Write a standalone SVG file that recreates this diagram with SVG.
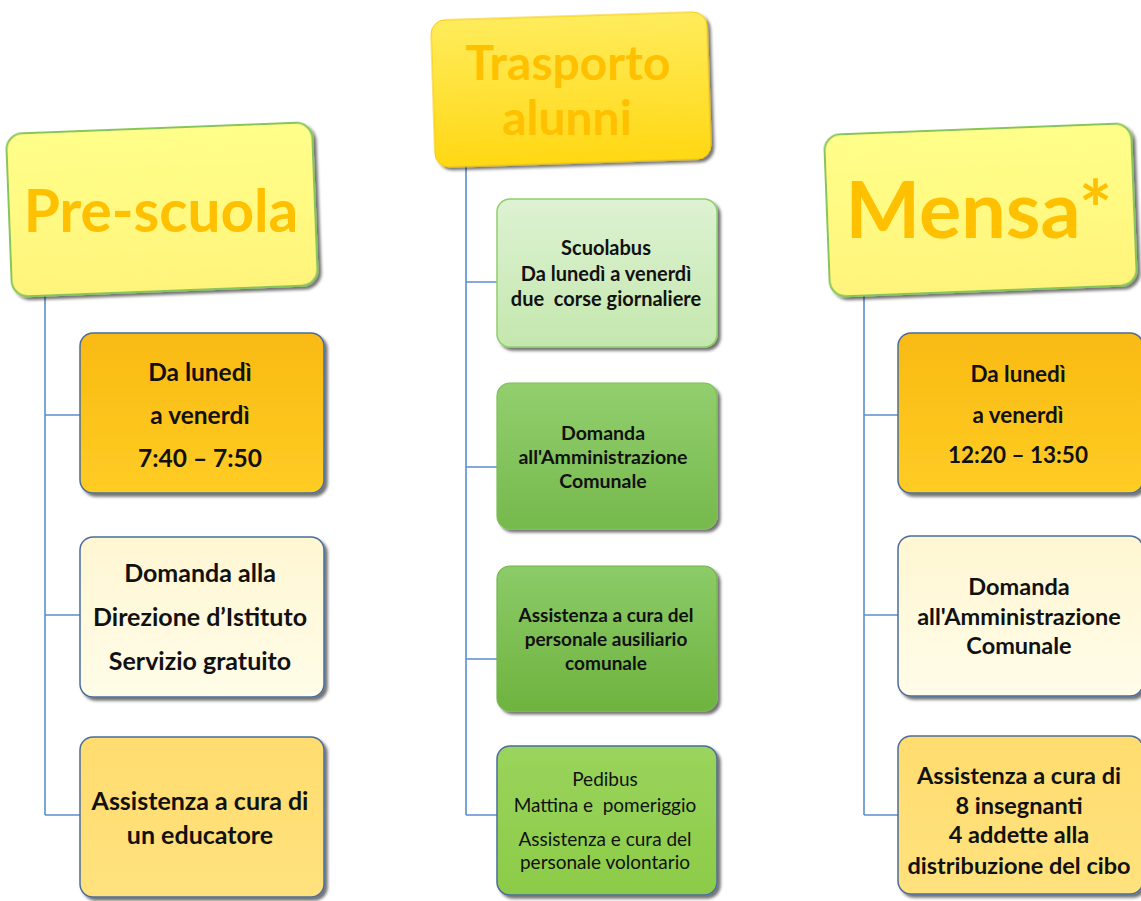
<svg xmlns="http://www.w3.org/2000/svg" width="1141" height="901" viewBox="0 0 1141 901">
<defs>
<style>
.title{font-family:"Lato","Open Sans",sans-serif;font-weight:bold;fill:#FFC000;text-anchor:middle}
.t{font-family:"Lato","Open Sans",sans-serif;font-weight:bold;fill:#111;text-anchor:middle}
.tr{font-family:"Lato","Open Sans",sans-serif;font-weight:normal;fill:#111;text-anchor:middle}
.conn{stroke:#5B8ED0;stroke-width:1.6;fill:none}
.bb{stroke:#4A6C9C;stroke-width:1.5}
</style>
<filter id="sh" x="-10%" y="-10%" width="125%" height="125%">
<feDropShadow dx="3" dy="3" stdDeviation="1.8" flood-color="#000" flood-opacity="0.55"/>
</filter>
<linearGradient id="gHead" x1="0" y1="0" x2="0" y2="1">
<stop offset="0" stop-color="#FFFF8A"/><stop offset="1" stop-color="#FFF47A"/>
</linearGradient>
<linearGradient id="gTrasp" x1="0" y1="0" x2="0" y2="1">
<stop offset="0" stop-color="#FFEC5C"/><stop offset="1" stop-color="#FFD814"/>
</linearGradient>
<linearGradient id="gOr" x1="0" y1="0" x2="0" y2="1">
<stop offset="0" stop-color="#F9BA12"/><stop offset="1" stop-color="#FFCC24"/>
</linearGradient>
<linearGradient id="gCream" x1="0" y1="0" x2="0" y2="1">
<stop offset="0" stop-color="#FFF6D2"/><stop offset="1" stop-color="#FFFCE8"/>
</linearGradient>
<linearGradient id="gLt" x1="0" y1="0" x2="0" y2="1">
<stop offset="0" stop-color="#FFDC6E"/><stop offset="1" stop-color="#FFE27E"/>
</linearGradient>
<linearGradient id="gG1" x1="0" y1="0" x2="0" y2="1">
<stop offset="0" stop-color="#DDF2D2"/><stop offset="1" stop-color="#C4E7AE"/>
</linearGradient>
<linearGradient id="gG2" x1="0" y1="0" x2="0" y2="1">
<stop offset="0" stop-color="#92CF6E"/><stop offset="1" stop-color="#76B94C"/>
</linearGradient>
<linearGradient id="gG3" x1="0" y1="0" x2="0" y2="1">
<stop offset="0" stop-color="#8CCB68"/><stop offset="1" stop-color="#6FB33F"/>
</linearGradient>
<linearGradient id="gG4" x1="0" y1="0" x2="0" y2="1">
<stop offset="0" stop-color="#9AD45C"/><stop offset="1" stop-color="#8CCB48"/>
</linearGradient>
</defs>

<rect width="1141" height="901" fill="#FFFFFF"/>

<g id="connectors">
<path class="conn" d="M45 294 V815 M45 415 H80 M45 615 H80 M45 815 H80"/>
<path class="conn" d="M466 166 V815 M466 282 H497 M466 467 H497 M466 659 H497 M466 815 H497"/>
<path class="conn" d="M864 294 V815 M864 415 H898 M864 615 H898 M864 815 H898"/>
</g>

<g id="node-prescuola">
<rect x="9" y="128" width="306" height="163" rx="16" fill="url(#gHead)" stroke="#86C55A" stroke-width="2" filter="url(#sh)" transform="rotate(-2.2 162 210)"/>
<text class="title" x="161" y="232" font-size="58.5">Pre-scuola</text>
</g>

<g id="node-trasporto">
<rect x="433" y="16" width="276" height="147" rx="14" fill="url(#gTrasp)" stroke="#F5C800" stroke-width="1" filter="url(#sh)" transform="rotate(-1.8 571 90)"/>
<text class="title" x="568" y="80" font-size="48">Trasporto</text>
<text class="title" x="567" y="135" font-size="48">alunni</text>
</g>

<g id="node-mensa">
<rect x="827" y="129" width="307" height="162" rx="16" fill="url(#gHead)" stroke="#86C55A" stroke-width="2" filter="url(#sh)" transform="rotate(-2.2 980 210)"/>
<text class="title" x="979" y="238" font-size="79">Mensa*</text>
</g>

<g id="node-pre-orario">
<rect x="80" y="333" width="244" height="160" rx="13" fill="url(#gOr)" class="bb" filter="url(#sh)"/>
<text class="t" x="200" y="381" font-size="24.5">Da lunedì</text>
<text class="t" x="200" y="424" font-size="24.5">a venerdì</text>
<text class="t" x="200" y="467" font-size="24.5">7:40 – 7:50</text>
</g>

<g id="node-pre-domanda">
<rect x="80" y="537" width="244" height="160" rx="13" fill="url(#gCream)" class="bb" filter="url(#sh)"/>
<text class="t" x="200" y="582" font-size="25">Domanda alla</text>
<text class="t" x="200" y="626" font-size="25">Direzione d’Istituto</text>
<text class="t" x="200" y="670" font-size="25">Servizio gratuito</text>
</g>

<g id="node-pre-assistenza">
<rect x="80" y="737" width="244" height="160" rx="13" fill="url(#gLt)" class="bb" filter="url(#sh)"/>
<text class="t" x="200" y="810" font-size="25">Assistenza a cura di</text>
<text class="t" x="200" y="844" font-size="25">un educatore</text>
</g>

<g id="node-scuolabus">
<rect x="497" y="199" width="220" height="148" rx="13" fill="url(#gG1)" stroke="#8FCF6A" stroke-width="1.5" filter="url(#sh)"/>
<text class="t" x="606" y="255" font-size="20">Scuolabus</text>
<text class="t" x="606" y="281" font-size="20">Da lunedì a venerdì</text>
<text class="t" x="606" y="306" font-size="20" xml:space="preserve">due  corse giornaliere</text>
</g>

<g id="node-tr-domanda">
<rect x="497" y="383" width="220" height="146" rx="13" fill="url(#gG2)" stroke="#7CBF52" stroke-width="1.2" filter="url(#sh)"/>
<text class="t" x="603" y="440" font-size="19.5">Domanda</text>
<text class="t" x="603" y="464" font-size="19.5">all'Amministrazione</text>
<text class="t" x="603" y="488" font-size="19.5">Comunale</text>
</g>

<g id="node-tr-assistenza">
<rect x="497" y="566" width="220" height="145" rx="13" fill="url(#gG3)" stroke="#74B548" stroke-width="1.2" filter="url(#sh)"/>
<text class="t" x="606" y="622" font-size="19">Assistenza a cura del</text>
<text class="t" x="606" y="646" font-size="19">personale ausiliario</text>
<text class="t" x="606" y="670" font-size="19">comunale</text>
</g>

<g id="node-pedibus">
<rect x="497" y="746" width="220" height="149" rx="13" fill="url(#gG4)" class="bb" filter="url(#sh)"/>
<text class="tr" x="605" y="786" font-size="19">Pedibus</text>
<text class="tr" x="605" y="812" font-size="19" xml:space="preserve">Mattina e  pomeriggio</text>
<text class="tr" x="605" y="846" font-size="19">Assistenza e cura del</text>
<text class="tr" x="605" y="869" font-size="19">personale volontario</text>
</g>

<g id="node-mensa-orario">
<rect x="898" y="333" width="245" height="160" rx="13" fill="url(#gOr)" class="bb" filter="url(#sh)"/>
<text class="t" x="1018" y="382" font-size="22.5">Da lunedì</text>
<text class="t" x="1018" y="423" font-size="22.5">a venerdì</text>
<text class="t" x="1018" y="463" font-size="22.5">12:20 – 13:50</text>
</g>

<g id="node-mensa-domanda">
<rect x="898" y="536" width="245" height="160" rx="13" fill="url(#gCream)" class="bb" filter="url(#sh)"/>
<text class="t" x="1019" y="595" font-size="23.5">Domanda</text>
<text class="t" x="1019" y="625" font-size="23.5">all'Amministrazione</text>
<text class="t" x="1019" y="654" font-size="23.5">Comunale</text>
</g>

<g id="node-mensa-assistenza">
<rect x="898" y="736" width="245" height="158" rx="13" fill="url(#gLt)" class="bb" filter="url(#sh)"/>
<text class="t" x="1019" y="784" font-size="23.5">Assistenza a cura di</text>
<text class="t" x="1019" y="814" font-size="23.5">8 insegnanti</text>
<text class="t" x="1019" y="843" font-size="23.5">4 addette alla</text>
<text class="t" x="1019" y="874" font-size="23.5">distribuzione del cibo</text>
</g>
</svg>
